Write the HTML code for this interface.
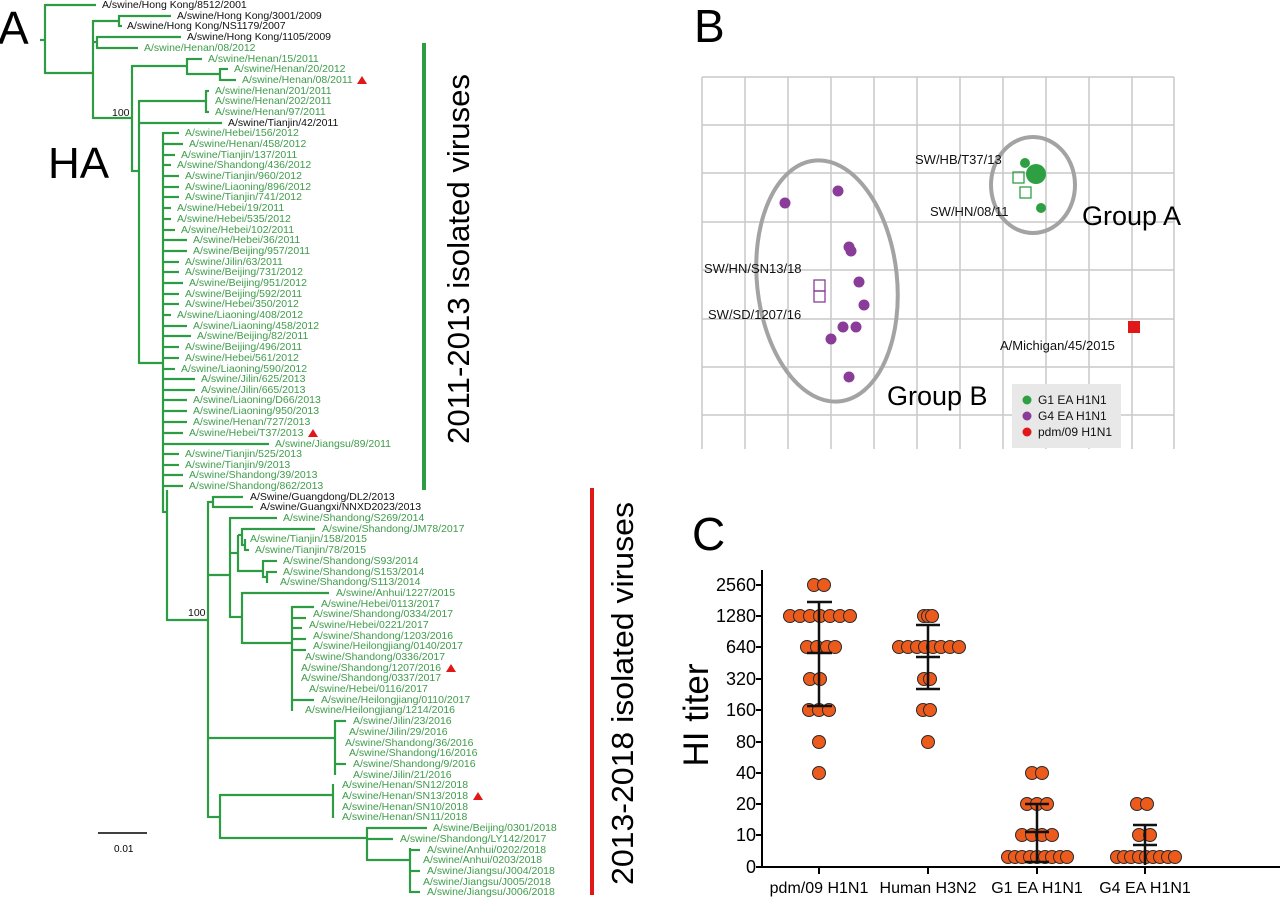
<!DOCTYPE html>
<html><head><meta charset="utf-8"><style>
html,body{margin:0;padding:0;background:#fff;}
svg{display:block;font-family:"Liberation Sans",Arial,sans-serif;}
.k{fill:#111;font-size:10.5px;}
.g{fill:#3e9c4a;font-size:10.5px;}
.t line{stroke:#2e9b45;stroke-width:2.2;}
</style></head><body>
<svg width="1280" height="899" viewBox="0 0 1280 899" xmlns="http://www.w3.org/2000/svg">
<rect width="1280" height="899" fill="#fff"/>
<!-- Panel A -->
<text x="-2" y="44" font-size="46" fill="#000">A</text>
<text x="48" y="178" font-size="44" fill="#000">HA</text>
<text x="112" y="116" font-size="10.5" fill="#111">100</text>
<text x="188" y="616" font-size="10.5" fill="#111">100</text>
<g class="t">
<line x1="40" y1="40" x2="45" y2="40"/>
<line x1="45" y1="4" x2="45" y2="74"/>
<line x1="45" y1="73" x2="93" y2="73"/>
<line x1="93" y1="20" x2="93" y2="119"/>
<line x1="93" y1="21" x2="119" y2="21"/>
<line x1="119" y1="15" x2="119" y2="27"/>
<line x1="93" y1="42" x2="97" y2="42"/>
<line x1="97" y1="36" x2="97" y2="49"/>
<line x1="93" y1="118" x2="132" y2="118"/>
<line x1="132" y1="65" x2="132" y2="172"/>
<line x1="132" y1="66" x2="187" y2="66"/>
<line x1="187" y1="58" x2="187" y2="75"/>
<line x1="187" y1="74" x2="220" y2="74"/>
<line x1="220" y1="68" x2="220" y2="81"/>
<line x1="132" y1="171" x2="139" y2="171"/>
<line x1="139" y1="100" x2="139" y2="364"/>
<line x1="139" y1="101" x2="206" y2="101"/>
<line x1="206" y1="90" x2="206" y2="113"/>
<line x1="139" y1="363" x2="163" y2="363"/>
<line x1="163" y1="132" x2="163" y2="513"/>
<line x1="163" y1="512" x2="167" y2="512"/>
<line x1="167" y1="490" x2="167" y2="621"/>
<line x1="167" y1="620" x2="208" y2="620"/>
<line x1="208" y1="501" x2="208" y2="818"/>
<line x1="208" y1="502" x2="213" y2="502"/>
<line x1="213" y1="496" x2="213" y2="508"/>
<line x1="208" y1="575" x2="230" y2="575"/>
<line x1="230" y1="517" x2="230" y2="618"/>
<line x1="230" y1="553" x2="238" y2="553"/>
<line x1="238" y1="535" x2="238" y2="572"/>
<line x1="238" y1="535" x2="242" y2="535"/>
<line x1="242" y1="528" x2="242" y2="546"/>
<line x1="242" y1="545" x2="245" y2="545"/>
<line x1="245" y1="539" x2="245" y2="551"/>
<line x1="238" y1="571" x2="263" y2="571"/>
<line x1="263" y1="560" x2="263" y2="578"/>
<line x1="263" y1="577" x2="267" y2="577"/>
<line x1="267" y1="571" x2="267" y2="583"/>
<line x1="230" y1="617" x2="242" y2="617"/>
<line x1="242" y1="592" x2="242" y2="644"/>
<line x1="242" y1="643" x2="292" y2="643"/>
<line x1="292" y1="606" x2="292" y2="711"/>
<line x1="208" y1="738" x2="335" y2="738"/>
<line x1="335" y1="720" x2="335" y2="775"/>
<line x1="208" y1="817" x2="220" y2="817"/>
<line x1="220" y1="794" x2="220" y2="839"/>
<line x1="220" y1="795" x2="333" y2="795"/>
<line x1="333" y1="784" x2="333" y2="818"/>
<line x1="220" y1="838" x2="367" y2="838"/>
<line x1="367" y1="827" x2="367" y2="861"/>
<line x1="367" y1="860" x2="410" y2="860"/>
<line x1="410" y1="848" x2="410" y2="893"/>
<line x1="45" y1="5" x2="96" y2="5"/>
<line x1="119" y1="16" x2="171" y2="16"/>
<line x1="119" y1="26" x2="122" y2="26"/>
<line x1="97" y1="37" x2="181" y2="37"/>
<line x1="97" y1="48" x2="138" y2="48"/>
<line x1="187" y1="59" x2="202" y2="59"/>
<line x1="220" y1="69" x2="228" y2="69"/>
<line x1="220" y1="80" x2="236" y2="80"/>
<line x1="206" y1="91" x2="209" y2="91"/>
<line x1="206" y1="112" x2="209" y2="112"/>
<line x1="139" y1="123" x2="222" y2="123"/>
<line x1="163" y1="133" x2="179" y2="133"/>
<line x1="163" y1="144" x2="183" y2="144"/>
<line x1="163" y1="155" x2="175" y2="155"/>
<line x1="163" y1="165" x2="171" y2="165"/>
<line x1="163" y1="176" x2="179" y2="176"/>
<line x1="163" y1="187" x2="179" y2="187"/>
<line x1="163" y1="197" x2="179" y2="197"/>
<line x1="163" y1="208" x2="171" y2="208"/>
<line x1="163" y1="219" x2="171" y2="219"/>
<line x1="163" y1="230" x2="175" y2="230"/>
<line x1="163" y1="240" x2="187" y2="240"/>
<line x1="163" y1="251" x2="187" y2="251"/>
<line x1="163" y1="262" x2="179" y2="262"/>
<line x1="163" y1="272" x2="179" y2="272"/>
<line x1="163" y1="283" x2="183" y2="283"/>
<line x1="163" y1="294" x2="179" y2="294"/>
<line x1="163" y1="304" x2="179" y2="304"/>
<line x1="163" y1="315" x2="171" y2="315"/>
<line x1="163" y1="326" x2="187" y2="326"/>
<line x1="163" y1="336" x2="191" y2="336"/>
<line x1="163" y1="347" x2="179" y2="347"/>
<line x1="163" y1="358" x2="179" y2="358"/>
<line x1="163" y1="369" x2="175" y2="369"/>
<line x1="163" y1="379" x2="195" y2="379"/>
<line x1="163" y1="390" x2="195" y2="390"/>
<line x1="163" y1="400" x2="187" y2="400"/>
<line x1="163" y1="411" x2="187" y2="411"/>
<line x1="163" y1="422" x2="187" y2="422"/>
<line x1="163" y1="433" x2="183" y2="433"/>
<line x1="163" y1="444" x2="269" y2="444"/>
<line x1="163" y1="454" x2="179" y2="454"/>
<line x1="163" y1="465" x2="179" y2="465"/>
<line x1="163" y1="475" x2="183" y2="475"/>
<line x1="163" y1="486" x2="183" y2="486"/>
<line x1="213" y1="497" x2="243" y2="497"/>
<line x1="213" y1="507" x2="253" y2="507"/>
<line x1="230" y1="518" x2="277" y2="518"/>
<line x1="242" y1="529" x2="315" y2="529"/>
<line x1="245" y1="550" x2="249" y2="550"/>
<line x1="263" y1="561" x2="277" y2="561"/>
<line x1="267" y1="572" x2="277" y2="572"/>
<line x1="242" y1="593" x2="329" y2="593"/>
<line x1="292" y1="607" x2="314" y2="607"/>
<line x1="292" y1="618" x2="306" y2="618"/>
<line x1="292" y1="628" x2="302" y2="628"/>
<line x1="292" y1="639" x2="306" y2="639"/>
<line x1="292" y1="650" x2="306" y2="650"/>
<line x1="292" y1="700" x2="314" y2="700"/>
<line x1="335" y1="721" x2="346" y2="721"/>
<line x1="335" y1="764" x2="346" y2="764"/>
<line x1="367" y1="828" x2="427" y2="828"/>
<line x1="367" y1="839" x2="393" y2="839"/>
<line x1="410" y1="850" x2="420" y2="850"/>
<line x1="410" y1="871" x2="420" y2="871"/>
<line x1="410" y1="892" x2="420" y2="892"/>
</g>
<g dominant-baseline="central">
<text class="k" x="102" y="5">A/swine/Hong Kong/8512/2001</text>
<text class="k" x="177" y="16">A/swine/Hong Kong/3001/2009</text>
<text class="k" x="127" y="26">A/swine/Hong Kong/NS1179/2007</text>
<text class="k" x="187" y="37">A/swine/Hong Kong/1105/2009</text>
<text class="g" x="144" y="48">A/swine/Henan/08/2012</text>
<text class="g" x="208" y="59">A/swine/Henan/15/2011</text>
<text class="g" x="234" y="69">A/swine/Henan/20/2012</text>
<text class="g" x="242" y="80">A/swine/Henan/08/2011</text>
<text class="g" x="215" y="91">A/swine/Henan/201/2011</text>
<text class="g" x="215" y="101">A/swine/Henan/202/2011</text>
<text class="g" x="215" y="112">A/swine/Henan/97/2011</text>
<text class="k" x="228" y="123">A/swine/Tianjin/42/2011</text>
<text class="g" x="185" y="133">A/swine/Hebei/156/2012</text>
<text class="g" x="189" y="144">A/swine/Henan/458/2012</text>
<text class="g" x="181" y="155">A/swine/Tianjin/137/2011</text>
<text class="g" x="177" y="165">A/swine/Shandong/436/2012</text>
<text class="g" x="185" y="176">A/swine/Tianjin/960/2012</text>
<text class="g" x="185" y="187">A/swine/Liaoning/896/2012</text>
<text class="g" x="185" y="197">A/swine/Tianjin/741/2012</text>
<text class="g" x="177" y="208">A/swine/Hebei/19/2011</text>
<text class="g" x="177" y="219">A/swine/Hebei/535/2012</text>
<text class="g" x="181" y="230">A/swine/Hebei/102/2011</text>
<text class="g" x="193" y="240">A/swine/Hebei/36/2011</text>
<text class="g" x="193" y="251">A/swine/Beijing/957/2011</text>
<text class="g" x="185" y="262">A/swine/Jilin/63/2011</text>
<text class="g" x="185" y="272">A/swine/Beijing/731/2012</text>
<text class="g" x="189" y="283">A/swine/Beijing/951/2012</text>
<text class="g" x="185" y="294">A/swine/Beijing/592/2011</text>
<text class="g" x="185" y="304">A/swine/Hebei/350/2012</text>
<text class="g" x="177" y="315">A/swine/Liaoning/408/2012</text>
<text class="g" x="193" y="326">A/swine/Liaoning/458/2012</text>
<text class="g" x="197" y="336">A/swine/Beijing/82/2011</text>
<text class="g" x="185" y="347">A/swine/Beijing/496/2011</text>
<text class="g" x="185" y="358">A/swine/Hebei/561/2012</text>
<text class="g" x="181" y="369">A/swine/Liaoning/590/2012</text>
<text class="g" x="201" y="379">A/swine/Jilin/625/2013</text>
<text class="g" x="201" y="390">A/swine/Jilin/665/2013</text>
<text class="g" x="193" y="400">A/swine/Liaoning/D66/2013</text>
<text class="g" x="193" y="411">A/swine/Liaoning/950/2013</text>
<text class="g" x="193" y="422">A/swine/Henan/727/2013</text>
<text class="g" x="189" y="433">A/swine/Hebei/T37/2013</text>
<text class="g" x="275" y="444">A/swine/Jiangsu/89/2011</text>
<text class="g" x="185" y="454">A/swine/Tianjin/525/2013</text>
<text class="g" x="185" y="465">A/swine/Tianjin/9/2013</text>
<text class="g" x="189" y="475">A/swine/Shandong/39/2013</text>
<text class="g" x="189" y="486">A/swine/Shandong/862/2013</text>
<text class="k" x="250" y="497">A/Swine/Guangdong/DL2/2013</text>
<text class="k" x="260" y="507">A/swine/Guangxi/NNXD2023/2013</text>
<text class="g" x="283" y="518">A/swine/Shandong/S269/2014</text>
<text class="g" x="322" y="529">A/swine/Shandong/JM78/2017</text>
<text class="g" x="250" y="539">A/swine/Tianjin/158/2015</text>
<text class="g" x="255" y="550">A/swine/Tianjin/78/2015</text>
<text class="g" x="283" y="561">A/swine/Shandong/S93/2014</text>
<text class="g" x="283" y="572">A/swine/Shandong/S153/2014</text>
<text class="g" x="280" y="582">A/swine/Shandong/S113/2014</text>
<text class="g" x="336" y="593">A/swine/Anhui/1227/2015</text>
<text class="g" x="321" y="604">A/swine/Hebei/0113/2017</text>
<text class="g" x="313" y="614">A/swine/Shandong/0334/2017</text>
<text class="g" x="309" y="625">A/swine/Hebei/0221/2017</text>
<text class="g" x="313" y="636">A/swine/Shandong/1203/2016</text>
<text class="g" x="313" y="646">A/swine/Heilongjiang/0140/2017</text>
<text class="g" x="305" y="657">A/swine/Shandong/0336/2017</text>
<text class="g" x="301" y="668">A/swine/Shandong/1207/2016</text>
<text class="g" x="301" y="678">A/swine/Shandong/0337/2017</text>
<text class="g" x="309" y="689">A/swine/Hebei/0116/2017</text>
<text class="g" x="321" y="700">A/swine/Heilongjiang/0110/2017</text>
<text class="g" x="305" y="710">A/swine/Heilongjiang/1214/2016</text>
<text class="g" x="353" y="721">A/swine/Jilin/23/2016</text>
<text class="g" x="349" y="732">A/swine/Jilin/29/2016</text>
<text class="g" x="345" y="743">A/swine/Shandong/36/2016</text>
<text class="g" x="349" y="753">A/swine/Shandong/16/2016</text>
<text class="g" x="353" y="764">A/swine/Shandong/9/2016</text>
<text class="g" x="353" y="775">A/swine/Jilin/21/2016</text>
<text class="g" x="342" y="785">A/swine/Henan/SN12/2018</text>
<text class="g" x="342" y="796">A/swine/Henan/SN13/2018</text>
<text class="g" x="342" y="807">A/swine/Henan/SN10/2018</text>
<text class="g" x="342" y="817">A/swine/Henan/SN11/2018</text>
<text class="g" x="433" y="828">A/swine/Beijing/0301/2018</text>
<text class="g" x="400" y="839">A/swine/Shandong/LY142/2017</text>
<text class="g" x="427" y="850">A/swine/Anhui/0202/2018</text>
<text class="g" x="423" y="860">A/swine/Anhui/0203/2018</text>
<text class="g" x="427" y="871">A/swine/Jiangsu/J004/2018</text>
<text class="g" x="423" y="882">A/swine/Jiangsu/J005/2018</text>
<text class="g" x="427" y="892">A/swine/Jiangsu/J006/2018</text>
</g>
<g fill="#e01818">
<polygon points="362,76 367,84 357,84"/>
<polygon points="313,429 318,437 308,437"/>
<polygon points="451,664 456,672 446,672"/>
<polygon points="478,792 483,800 473,800"/>
</g>
<rect x="422" y="43" width="4" height="447" fill="#2e9b45"/>
<rect x="590" y="488" width="4" height="407" fill="#e01818"/>
<text transform="translate(469,444) rotate(-90)" font-size="31" fill="#000" textLength="370" lengthAdjust="spacingAndGlyphs">2011-2013 isolated viruses</text>
<text transform="translate(633,885) rotate(-90)" font-size="31" fill="#000" textLength="383" lengthAdjust="spacingAndGlyphs">2013-2018 isolated viruses</text>
<line x1="98" y1="833" x2="147" y2="833" stroke="#000" stroke-width="1.5"/>
<text x="114" y="852" font-size="10" fill="#000">0.01</text>

<!-- Panel B -->
<text x="694" y="42" font-size="46" fill="#000">B</text>
<g stroke="#c9c9c9" stroke-width="1.5">
<line x1="702" y1="77" x2="1174" y2="77"/><line x1="702" y1="125" x2="1174" y2="125"/>
<line x1="702" y1="173" x2="1174" y2="173"/><line x1="702" y1="222" x2="1174" y2="222"/>
<line x1="702" y1="270" x2="1174" y2="270"/><line x1="702" y1="319" x2="1174" y2="319"/>
<line x1="702" y1="367" x2="1174" y2="367"/><line x1="702" y1="415" x2="1174" y2="415"/>
<line x1="702" y1="77" x2="702" y2="449"/><line x1="745" y1="77" x2="745" y2="449"/>
<line x1="788" y1="77" x2="788" y2="449"/><line x1="831" y1="77" x2="831" y2="449"/>
<line x1="874" y1="77" x2="874" y2="449"/><line x1="917" y1="77" x2="917" y2="449"/>
<line x1="960" y1="77" x2="960" y2="449"/><line x1="1003" y1="77" x2="1003" y2="449"/>
<line x1="1046" y1="77" x2="1046" y2="449"/><line x1="1089" y1="77" x2="1089" y2="449"/>
<line x1="1132" y1="77" x2="1132" y2="449"/><line x1="1174" y1="77" x2="1174" y2="449"/>
</g>
<ellipse cx="1033" cy="185" rx="42" ry="48" fill="none" stroke="#a3a3a3" stroke-width="4"/>
<ellipse cx="827" cy="281" rx="70" ry="121" fill="none" stroke="#a3a3a3" stroke-width="4" transform="rotate(-6 827 281)"/>
<g fill="#8a3d98">
<circle cx="785" cy="203" r="5.5"/><circle cx="838" cy="191" r="5.5"/>
<circle cx="849" cy="247" r="5.5"/><circle cx="851" cy="251" r="5.5"/>
<circle cx="859" cy="282" r="5.5"/><circle cx="864" cy="305" r="5.5"/>
<circle cx="843" cy="327" r="5.5"/><circle cx="856" cy="327" r="5.5"/>
<circle cx="831" cy="339" r="5.5"/><circle cx="849" cy="377" r="5.5"/>
</g>
<rect x="814" y="280" width="11" height="11" fill="none" stroke="#8a3d98" stroke-width="1.3"/>
<rect x="814" y="291" width="11" height="11" fill="none" stroke="#8a3d98" stroke-width="1.3"/>
<g fill="#2ea043">
<circle cx="1025" cy="163" r="5"/><circle cx="1036" cy="174" r="10"/><circle cx="1041" cy="208" r="5"/>
</g>
<rect x="1013" y="172" width="11" height="11" fill="none" stroke="#2ea043" stroke-width="1.3"/>
<rect x="1020" y="187" width="11" height="11" fill="none" stroke="#2ea043" stroke-width="1.3"/>
<rect x="1128" y="321" width="12" height="12" fill="#e01818"/>
<g font-size="13" fill="#111">
<text x="915" y="164">SW/HB/T37/13</text>
<text x="930" y="216">SW/HN/08/11</text>
<text x="704" y="273">SW/HN/SN13/18</text>
<text x="708" y="319">SW/SD/1207/16</text>
<text x="1000" y="350">A/Michigan/45/2015</text>
</g>
<text x="1082" y="225" font-size="27" fill="#000">Group A</text>
<text x="887" y="405" font-size="27" fill="#000">Group B</text>
<rect x="1012" y="384" width="109" height="64" fill="#e8e8e8"/>
<circle cx="1027" cy="400" r="4.5" fill="#2ea043"/>
<circle cx="1027" cy="416" r="4.5" fill="#8a3d98"/>
<circle cx="1027" cy="432" r="4.5" fill="#e01818"/>
<g font-size="12" fill="#111">
<text x="1038" y="404">G1 EA H1N1</text>
<text x="1038" y="420">G4 EA H1N1</text>
<text x="1038" y="436">pdm/09 H1N1</text>
</g>

<!-- Panel C -->
<text x="692" y="550" font-size="46" fill="#000">C</text>
<text transform="translate(708,715) rotate(-90)" font-size="35" text-anchor="middle" fill="#000">HI titer</text>
<g stroke="#000" stroke-width="2">
<line x1="762" y1="570" x2="762" y2="868"/>
<line x1="761" y1="867" x2="1280" y2="867"/>
<line x1="756" y1="585" x2="762" y2="585"/><line x1="756" y1="616" x2="762" y2="616"/>
<line x1="756" y1="647" x2="762" y2="647"/><line x1="756" y1="679" x2="762" y2="679"/>
<line x1="756" y1="710" x2="762" y2="710"/><line x1="756" y1="742" x2="762" y2="742"/>
<line x1="756" y1="773" x2="762" y2="773"/><line x1="756" y1="804" x2="762" y2="804"/>
<line x1="756" y1="835" x2="762" y2="835"/><line x1="756" y1="867" x2="762" y2="867"/>
<line x1="819" y1="867" x2="819" y2="874"/><line x1="928" y1="867" x2="928" y2="874"/>
<line x1="1037" y1="867" x2="1037" y2="874"/><line x1="1145" y1="867" x2="1145" y2="874"/>
</g>
<g font-size="18" fill="#000" text-anchor="end" dominant-baseline="central">
<text x="756" y="585">2560</text><text x="756" y="616">1280</text><text x="756" y="647">640</text>
<text x="756" y="679">320</text><text x="756" y="710">160</text><text x="756" y="742">80</text>
<text x="756" y="773">40</text><text x="756" y="804">20</text><text x="756" y="835">10</text>
<text x="756" y="867">0</text>
</g>
<g font-size="16" fill="#000" text-anchor="middle">
<text x="819" y="893">pdm/09 H1N1</text><text x="928" y="893">Human H3N2</text>
<text x="1037" y="893">G1 EA H1N1</text><text x="1145" y="893">G4 EA H1N1</text>
</g>
<g fill="#ec5a1c" stroke="#2a2a2a" stroke-width="1">
<circle cx="814" cy="585" r="6.5"/><circle cx="824" cy="585" r="6.5"/>
<circle cx="790" cy="616" r="6.5"/><circle cx="800" cy="616" r="6.5"/><circle cx="810" cy="616" r="6.5"/><circle cx="820" cy="616" r="6.5"/><circle cx="830" cy="616" r="6.5"/><circle cx="840" cy="616" r="6.5"/><circle cx="850" cy="616" r="6.5"/>
<circle cx="807" cy="647" r="6.5"/><circle cx="817" cy="647" r="6.5"/><circle cx="827" cy="647" r="6.5"/><circle cx="835" cy="647" r="6.5"/>
<circle cx="810" cy="679" r="6.5"/><circle cx="820" cy="679" r="6.5"/>
<circle cx="809" cy="710" r="6.5"/><circle cx="819" cy="710" r="6.5"/><circle cx="829" cy="710" r="6.5"/>
<circle cx="819" cy="742" r="6.5"/><circle cx="819" cy="773" r="6.5"/>
<circle cx="924" cy="616" r="6.5"/><circle cx="928" cy="616" r="6.5"/><circle cx="932" cy="616" r="6.5"/>
<circle cx="899" cy="647" r="6.5"/><circle cx="908" cy="647" r="6.5"/><circle cx="917" cy="647" r="6.5"/><circle cx="925" cy="647" r="6.5"/><circle cx="933" cy="647" r="6.5"/><circle cx="941" cy="647" r="6.5"/><circle cx="950" cy="647" r="6.5"/><circle cx="959" cy="647" r="6.5"/>
<circle cx="924" cy="679" r="6.5"/><circle cx="930" cy="679" r="6.5"/>
<circle cx="923" cy="710" r="6.5"/><circle cx="930" cy="710" r="6.5"/>
<circle cx="928" cy="742" r="6.5"/>
<circle cx="1032" cy="773" r="6.5"/><circle cx="1042" cy="773" r="6.5"/>
<circle cx="1027" cy="804" r="6.5"/><circle cx="1037" cy="804" r="6.5"/><circle cx="1047" cy="804" r="6.5"/>
<circle cx="1022" cy="835" r="6.5"/><circle cx="1032" cy="835" r="6.5"/><circle cx="1042" cy="835" r="6.5"/><circle cx="1052" cy="835" r="6.5"/>
<circle cx="1008" cy="857" r="6.5"/><circle cx="1015" cy="857" r="6.5"/><circle cx="1022" cy="857" r="6.5"/><circle cx="1030" cy="857" r="6.5"/><circle cx="1037" cy="857" r="6.5"/><circle cx="1045" cy="857" r="6.5"/><circle cx="1052" cy="857" r="6.5"/><circle cx="1060" cy="857" r="6.5"/><circle cx="1067" cy="857" r="6.5"/>
<circle cx="1137" cy="804" r="6.5"/><circle cx="1147" cy="804" r="6.5"/>
<circle cx="1139" cy="835" r="6.5"/><circle cx="1150" cy="835" r="6.5"/>
<circle cx="1117" cy="857" r="6.5"/><circle cx="1124" cy="857" r="6.5"/><circle cx="1131" cy="857" r="6.5"/><circle cx="1139" cy="857" r="6.5"/><circle cx="1146" cy="857" r="6.5"/><circle cx="1153" cy="857" r="6.5"/><circle cx="1160" cy="857" r="6.5"/><circle cx="1168" cy="857" r="6.5"/><circle cx="1175" cy="857" r="6.5"/>
</g>
<g stroke="#111" stroke-width="2.5">
<line x1="819" y1="602" x2="819" y2="706"/><line x1="807" y1="602" x2="832" y2="602"/><line x1="807" y1="653" x2="832" y2="653"/><line x1="807" y1="706" x2="832" y2="706"/>
<line x1="928" y1="625" x2="928" y2="689"/><line x1="916" y1="625" x2="940" y2="625"/><line x1="916" y1="657" x2="940" y2="657"/><line x1="916" y1="689" x2="940" y2="689"/>
<line x1="1037" y1="804" x2="1037" y2="862"/><line x1="1025" y1="804" x2="1049" y2="804"/><line x1="1025" y1="832" x2="1049" y2="832"/><line x1="1025" y1="862" x2="1049" y2="862"/>
<line x1="1145" y1="825" x2="1145" y2="865"/><line x1="1133" y1="825" x2="1157" y2="825"/><line x1="1133" y1="845" x2="1157" y2="845"/>
</g>
</svg>
</body></html>
